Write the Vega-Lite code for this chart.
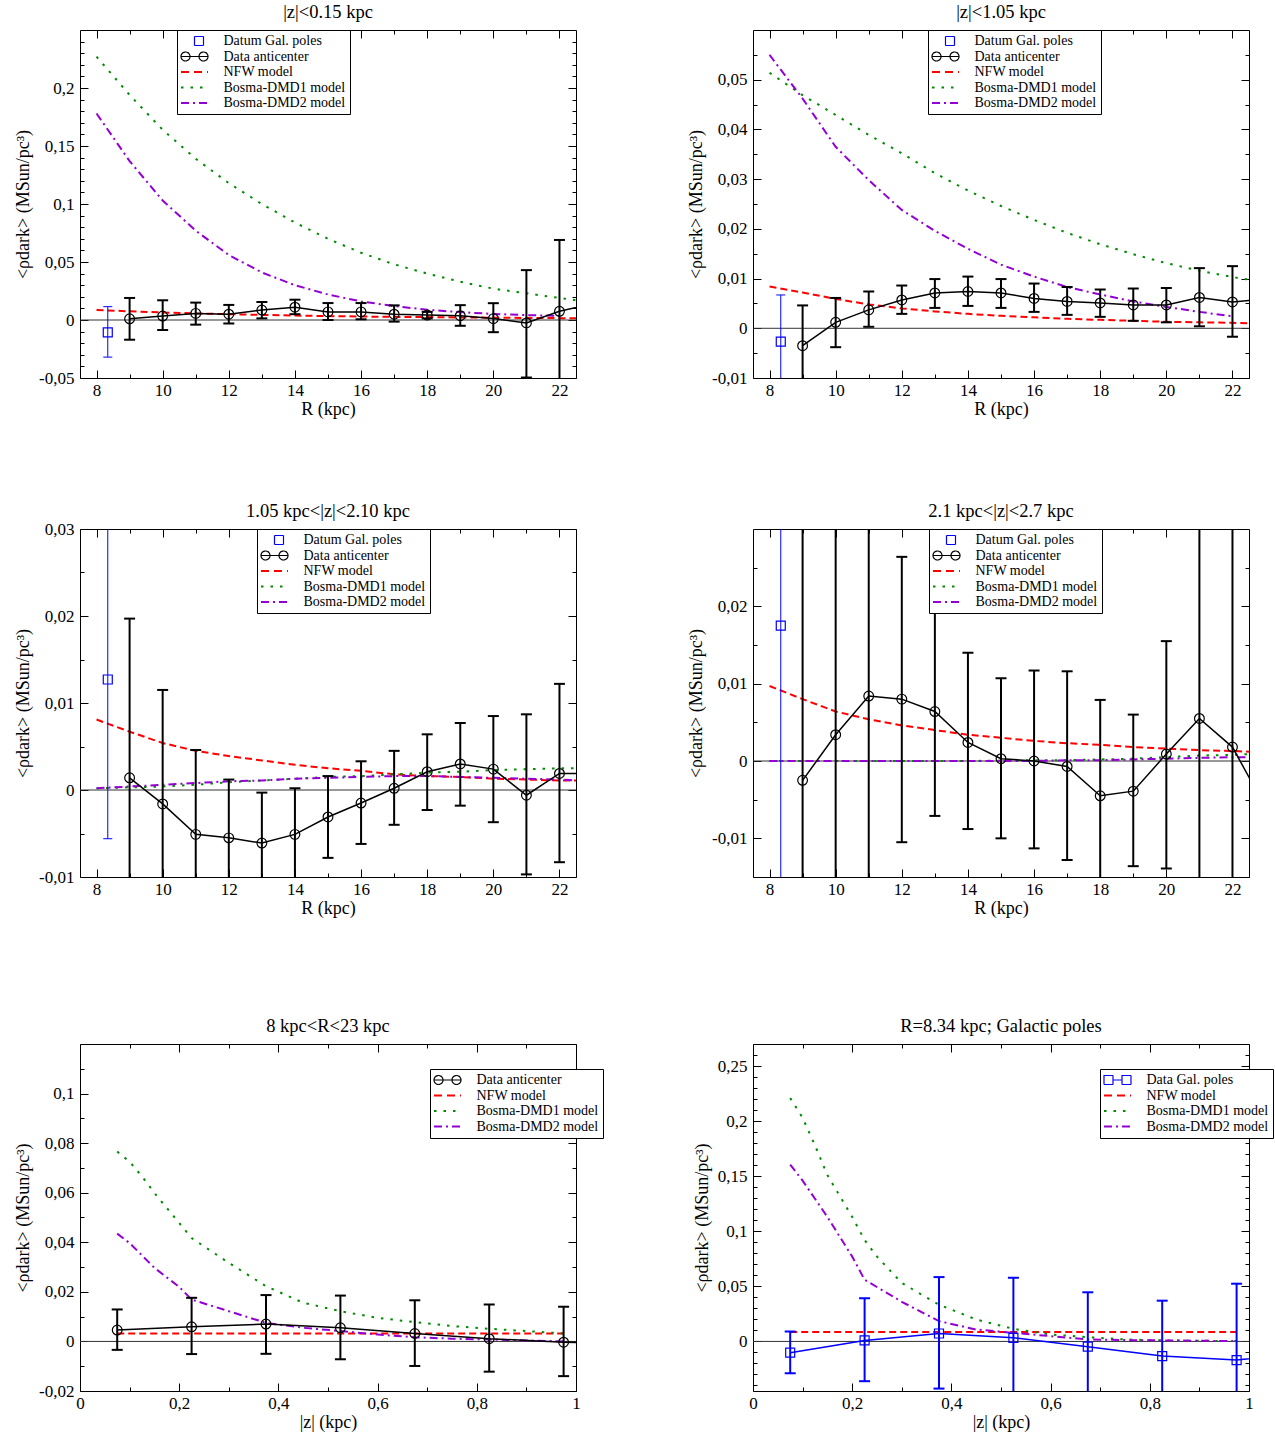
{
"$schema": "https://vega.github.io/schema/vega-lite/v6.json",
"background": "white",
"padding": {"left": 14, "top": 2, "right": 2, "bottom": 2},
"config": {
 "font": "Liberation Serif",
 "view": {"stroke": "#000000", "strokeWidth": 1},
 "axis": {"labelFont": "Liberation Serif", "labelFontSize": 17, "labelColor": "#000000", "titleFont": "Liberation Serif", "titleFontSize": 18, "titleFontWeight": "normal", "titleColor": "#000000", "domain": false, "grid": false, "tickColor": "#000000", "tickWidth": 1, "labelFlush": false, "labelOverlap": false, "labelBound": false},
 "title": {"font": "Liberation Serif", "fontSize": 18.5, "fontWeight": "normal", "color": "#000000", "offset": 8, "frame": "group"},
 "legend": {"orient": "none", "direction": "vertical", "fillColor": "white", "strokeColor": "#000000", "padding": 4, "rowPadding": 1.5, "symbolSize": 100, "symbolOffset": 6.5, "labelOffset": 22, "labelFont": "Liberation Serif", "labelFontSize": 14, "labelColor": "#000000", "symbolStrokeWidth": 1.5}
},
"datasets": {
"p1": [
{"s":"NFW model","x":8,"y":0.0086},{"s":"NFW model","x":9,"y":0.0075},{"s":"NFW model","x":10,"y":0.0065},{"s":"NFW model","x":11,"y":0.0057},{"s":"NFW model","x":12,"y":0.005},{"s":"NFW model","x":13,"y":0.0044},{"s":"NFW model","x":14,"y":0.0038},{"s":"NFW model","x":15,"y":0.0034},{"s":"NFW model","x":16,"y":0.003},{"s":"NFW model","x":17,"y":0.0027},{"s":"NFW model","x":18,"y":0.0025},{"s":"NFW model","x":19,"y":0.0022},{"s":"NFW model","x":20,"y":0.002},{"s":"NFW model","x":21,"y":0.0018},{"s":"NFW model","x":22,"y":0.0016},{"s":"NFW model","x":22.5,"y":0.0015},
{"s":"Bosma-DMD1 model","x":8,"y":0.227},{"s":"Bosma-DMD1 model","x":9,"y":0.194},{"s":"Bosma-DMD1 model","x":10,"y":0.164},{"s":"Bosma-DMD1 model","x":11,"y":0.139},{"s":"Bosma-DMD1 model","x":12,"y":0.118},{"s":"Bosma-DMD1 model","x":13,"y":0.1},{"s":"Bosma-DMD1 model","x":14,"y":0.084},{"s":"Bosma-DMD1 model","x":15,"y":0.07},{"s":"Bosma-DMD1 model","x":16,"y":0.058},{"s":"Bosma-DMD1 model","x":17,"y":0.048},{"s":"Bosma-DMD1 model","x":18,"y":0.04},{"s":"Bosma-DMD1 model","x":19,"y":0.033},{"s":"Bosma-DMD1 model","x":20,"y":0.027},{"s":"Bosma-DMD1 model","x":21,"y":0.023},{"s":"Bosma-DMD1 model","x":22,"y":0.019},{"s":"Bosma-DMD1 model","x":22.5,"y":0.017},
{"s":"Bosma-DMD2 model","x":8,"y":0.178},{"s":"Bosma-DMD2 model","x":9,"y":0.137},{"s":"Bosma-DMD2 model","x":10,"y":0.103},{"s":"Bosma-DMD2 model","x":11,"y":0.077},{"s":"Bosma-DMD2 model","x":12,"y":0.056},{"s":"Bosma-DMD2 model","x":13,"y":0.041},{"s":"Bosma-DMD2 model","x":14,"y":0.03},{"s":"Bosma-DMD2 model","x":15,"y":0.022},{"s":"Bosma-DMD2 model","x":16,"y":0.016},{"s":"Bosma-DMD2 model","x":17,"y":0.012},{"s":"Bosma-DMD2 model","x":18,"y":0.0088},{"s":"Bosma-DMD2 model","x":19,"y":0.0068},{"s":"Bosma-DMD2 model","x":20,"y":0.0052},{"s":"Bosma-DMD2 model","x":21,"y":0.0042},{"s":"Bosma-DMD2 model","x":22,"y":0.0035},
{"s":"Data anticenter","x":9,"y":0.001,"lo":-0.017,"hi":0.019},{"s":"Data anticenter","x":10,"y":0.0034,"lo":-0.0086,"hi":0.017},{"s":"Data anticenter","x":11,"y":0.0057,"lo":-0.004,"hi":0.015},{"s":"Data anticenter","x":12,"y":0.005,"lo":-0.003,"hi":0.013},{"s":"Data anticenter","x":13,"y":0.0086,"lo":0.0014,"hi":0.0155},{"s":"Data anticenter","x":14,"y":0.011,"lo":0.005,"hi":0.0175},{"s":"Data anticenter","x":15,"y":0.007,"lo":0.0,"hi":0.0146},{"s":"Data anticenter","x":16,"y":0.007,"lo":0.0006,"hi":0.0146},{"s":"Data anticenter","x":17,"y":0.005,"lo":-0.0014,"hi":0.0126},{"s":"Data anticenter","x":18,"y":0.0043,"lo":0.0014,"hi":0.007},{"s":"Data anticenter","x":19,"y":0.0037,"lo":-0.005,"hi":0.0128},{"s":"Data anticenter","x":20,"y":0.0012,"lo":-0.0105,"hi":0.0145},{"s":"Data anticenter","x":21,"y":-0.0025,"lo":-0.0496,"hi":0.043},{"s":"Data anticenter","x":22,"y":0.0075,"lo":-0.056,"hi":0.069},{"s":"Data anticenter","x":23,"y":0.014},
{"s":"Datum Gal. poles","x":8.34,"y":-0.0106,"lo":-0.032,"hi":0.0115}
],
"p2": [
{"s":"NFW model","x":8,"y":0.0084},{"s":"NFW model","x":9,"y":0.0072},{"s":"NFW model","x":10,"y":0.0059},{"s":"NFW model","x":11,"y":0.0048},{"s":"NFW model","x":12,"y":0.004},{"s":"NFW model","x":13,"y":0.0034},{"s":"NFW model","x":14,"y":0.0029},{"s":"NFW model","x":15,"y":0.0025},{"s":"NFW model","x":16,"y":0.0022},{"s":"NFW model","x":17,"y":0.0019},{"s":"NFW model","x":18,"y":0.0017},{"s":"NFW model","x":19,"y":0.0015},{"s":"NFW model","x":20,"y":0.0013},{"s":"NFW model","x":21,"y":0.0012},{"s":"NFW model","x":22,"y":0.0011},{"s":"NFW model","x":22.5,"y":0.001},
{"s":"Bosma-DMD1 model","x":8,"y":0.0514},{"s":"Bosma-DMD1 model","x":9,"y":0.0469},{"s":"Bosma-DMD1 model","x":10,"y":0.0429},{"s":"Bosma-DMD1 model","x":11,"y":0.0389},{"s":"Bosma-DMD1 model","x":12,"y":0.0352},{"s":"Bosma-DMD1 model","x":13,"y":0.0312},{"s":"Bosma-DMD1 model","x":14,"y":0.0277},{"s":"Bosma-DMD1 model","x":15,"y":0.0246},{"s":"Bosma-DMD1 model","x":16,"y":0.0218},{"s":"Bosma-DMD1 model","x":17,"y":0.0192},{"s":"Bosma-DMD1 model","x":18,"y":0.0169},{"s":"Bosma-DMD1 model","x":19,"y":0.0149},{"s":"Bosma-DMD1 model","x":20,"y":0.0131},{"s":"Bosma-DMD1 model","x":21,"y":0.0116},{"s":"Bosma-DMD1 model","x":22,"y":0.0103},{"s":"Bosma-DMD1 model","x":22.5,"y":0.0098},
{"s":"Bosma-DMD2 model","x":8,"y":0.055},{"s":"Bosma-DMD2 model","x":9,"y":0.0462},{"s":"Bosma-DMD2 model","x":10,"y":0.0365},{"s":"Bosma-DMD2 model","x":11,"y":0.0298},{"s":"Bosma-DMD2 model","x":12,"y":0.0238},{"s":"Bosma-DMD2 model","x":13,"y":0.0196},{"s":"Bosma-DMD2 model","x":14,"y":0.016},{"s":"Bosma-DMD2 model","x":15,"y":0.0128},{"s":"Bosma-DMD2 model","x":16,"y":0.0104},{"s":"Bosma-DMD2 model","x":17,"y":0.0083},{"s":"Bosma-DMD2 model","x":18,"y":0.0068},{"s":"Bosma-DMD2 model","x":19,"y":0.0054},{"s":"Bosma-DMD2 model","x":20,"y":0.0043},{"s":"Bosma-DMD2 model","x":21,"y":0.0033},{"s":"Bosma-DMD2 model","x":22,"y":0.0024},
{"s":"Data anticenter","x":9,"y":-0.0035,"lo":-0.0115,"hi":0.0046},{"s":"Data anticenter","x":10,"y":0.0012,"lo":-0.0038,"hi":0.0061},{"s":"Data anticenter","x":11,"y":0.0037,"lo":0.0003,"hi":0.0074},{"s":"Data anticenter","x":12,"y":0.0057,"lo":0.0029,"hi":0.0086},{"s":"Data anticenter","x":13,"y":0.0071,"lo":0.0041,"hi":0.0099},{"s":"Data anticenter","x":14,"y":0.0074,"lo":0.0045,"hi":0.0104},{"s":"Data anticenter","x":15,"y":0.0071,"lo":0.0041,"hi":0.0099},{"s":"Data anticenter","x":16,"y":0.006,"lo":0.0033,"hi":0.009},{"s":"Data anticenter","x":17,"y":0.0054,"lo":0.0027,"hi":0.0083},{"s":"Data anticenter","x":18,"y":0.0051,"lo":0.0023,"hi":0.0078},{"s":"Data anticenter","x":19,"y":0.0047,"lo":0.0015,"hi":0.008},{"s":"Data anticenter","x":20,"y":0.0047,"lo":0.0012,"hi":0.0081},{"s":"Data anticenter","x":21,"y":0.0062,"lo":0.0004,"hi":0.0121},{"s":"Data anticenter","x":22,"y":0.0053,"lo":-0.0017,"hi":0.0125},{"s":"Data anticenter","x":23,"y":0.0059},
{"s":"Datum Gal. poles","x":8.34,"y":-0.0027,"lo":-0.0121,"hi":0.0067}
],
"p3": [
{"s":"NFW model","x":8,"y":0.0081},{"s":"NFW model","x":9,"y":0.0067},{"s":"NFW model","x":10,"y":0.0054},{"s":"NFW model","x":11,"y":0.0045},{"s":"NFW model","x":12,"y":0.0039},{"s":"NFW model","x":13,"y":0.0034},{"s":"NFW model","x":14,"y":0.0029},{"s":"NFW model","x":15,"y":0.0025},{"s":"NFW model","x":16,"y":0.0022},{"s":"NFW model","x":17,"y":0.0018},{"s":"NFW model","x":18,"y":0.0016},{"s":"NFW model","x":19,"y":0.0015},{"s":"NFW model","x":20,"y":0.0013},{"s":"NFW model","x":21,"y":0.0012},{"s":"NFW model","x":22,"y":0.0011},{"s":"NFW model","x":22.5,"y":0.0011},
{"s":"Bosma-DMD1 model","x":8,"y":0.0002},{"s":"Bosma-DMD1 model","x":9,"y":0.0003},{"s":"Bosma-DMD1 model","x":10,"y":0.0004},{"s":"Bosma-DMD1 model","x":11,"y":0.0006},{"s":"Bosma-DMD1 model","x":12,"y":0.0009},{"s":"Bosma-DMD1 model","x":13,"y":0.0011},{"s":"Bosma-DMD1 model","x":14,"y":0.0013},{"s":"Bosma-DMD1 model","x":15,"y":0.0015},{"s":"Bosma-DMD1 model","x":16,"y":0.0016},{"s":"Bosma-DMD1 model","x":17,"y":0.0018},{"s":"Bosma-DMD1 model","x":18,"y":0.002},{"s":"Bosma-DMD1 model","x":19,"y":0.0021},{"s":"Bosma-DMD1 model","x":20,"y":0.0023},{"s":"Bosma-DMD1 model","x":21,"y":0.0024},{"s":"Bosma-DMD1 model","x":22,"y":0.0025},{"s":"Bosma-DMD1 model","x":22.5,"y":0.0025},
{"s":"Bosma-DMD2 model","x":8,"y":0.0002},{"s":"Bosma-DMD2 model","x":9,"y":0.0004},{"s":"Bosma-DMD2 model","x":10,"y":0.0006},{"s":"Bosma-DMD2 model","x":11,"y":0.0008},{"s":"Bosma-DMD2 model","x":12,"y":0.001},{"s":"Bosma-DMD2 model","x":13,"y":0.0011},{"s":"Bosma-DMD2 model","x":14,"y":0.0013},{"s":"Bosma-DMD2 model","x":15,"y":0.0014},{"s":"Bosma-DMD2 model","x":16,"y":0.0015},{"s":"Bosma-DMD2 model","x":17,"y":0.0016},{"s":"Bosma-DMD2 model","x":18,"y":0.0016},{"s":"Bosma-DMD2 model","x":19,"y":0.0015},{"s":"Bosma-DMD2 model","x":20,"y":0.0014},{"s":"Bosma-DMD2 model","x":21,"y":0.0013},{"s":"Bosma-DMD2 model","x":22,"y":0.0012},{"s":"Bosma-DMD2 model","x":22.5,"y":0.0011},
{"s":"Data anticenter","x":9,"y":0.0014,"lo":-0.0169,"hi":0.0197},{"s":"Data anticenter","x":10,"y":-0.0016,"lo":-0.0147,"hi":0.0115},{"s":"Data anticenter","x":11,"y":-0.0051,"lo":-0.0148,"hi":0.0046},{"s":"Data anticenter","x":12,"y":-0.0055,"lo":-0.0122,"hi":0.0012},{"s":"Data anticenter","x":13,"y":-0.0061,"lo":-0.0119,"hi":-0.0003},{"s":"Data anticenter","x":14,"y":-0.0051,"lo":-0.0104,"hi":0.0002},{"s":"Data anticenter","x":15,"y":-0.0031,"lo":-0.0078,"hi":0.0016},{"s":"Data anticenter","x":16,"y":-0.0015,"lo":-0.0062,"hi":0.0033},{"s":"Data anticenter","x":17,"y":0.0002,"lo":-0.004,"hi":0.0045},{"s":"Data anticenter","x":18,"y":0.0021,"lo":-0.0023,"hi":0.0064},{"s":"Data anticenter","x":19,"y":0.003,"lo":-0.0018,"hi":0.0077},{"s":"Data anticenter","x":20,"y":0.0024,"lo":-0.0037,"hi":0.0085},{"s":"Data anticenter","x":21,"y":-0.0006,"lo":-0.0097,"hi":0.0087},{"s":"Data anticenter","x":22,"y":0.0019,"lo":-0.0083,"hi":0.0122},{"s":"Data anticenter","x":23,"y":0.0019},
{"s":"Datum Gal. poles","x":8.34,"y":0.0127,"lo":-0.0056,"hi":0.031}
],
"p4": [
{"s":"NFW model","x":8,"y":0.0097},{"s":"NFW model","x":9,"y":0.008},{"s":"NFW model","x":10,"y":0.0064},{"s":"NFW model","x":11,"y":0.0054},{"s":"NFW model","x":12,"y":0.0046},{"s":"NFW model","x":13,"y":0.004},{"s":"NFW model","x":14,"y":0.0034},{"s":"NFW model","x":15,"y":0.003},{"s":"NFW model","x":16,"y":0.0026},{"s":"NFW model","x":17,"y":0.0023},{"s":"NFW model","x":18,"y":0.0021},{"s":"NFW model","x":19,"y":0.0018},{"s":"NFW model","x":20,"y":0.0016},{"s":"NFW model","x":21,"y":0.0014},{"s":"NFW model","x":22,"y":0.0013},{"s":"NFW model","x":22.5,"y":0.0012},
{"s":"Bosma-DMD1 model","x":8,"y":0},{"s":"Bosma-DMD1 model","x":10,"y":0},{"s":"Bosma-DMD1 model","x":12,"y":0},{"s":"Bosma-DMD1 model","x":14,"y":0},{"s":"Bosma-DMD1 model","x":16,"y":0.0001},{"s":"Bosma-DMD1 model","x":17,"y":0.0001},{"s":"Bosma-DMD1 model","x":18,"y":0.0002},{"s":"Bosma-DMD1 model","x":19,"y":0.0003},{"s":"Bosma-DMD1 model","x":20,"y":0.0005},{"s":"Bosma-DMD1 model","x":21,"y":0.0007},{"s":"Bosma-DMD1 model","x":22,"y":0.0008},{"s":"Bosma-DMD1 model","x":22.5,"y":0.0009},
{"s":"Bosma-DMD2 model","x":8,"y":0},{"s":"Bosma-DMD2 model","x":10,"y":0},{"s":"Bosma-DMD2 model","x":12,"y":0},{"s":"Bosma-DMD2 model","x":14,"y":0},{"s":"Bosma-DMD2 model","x":16,"y":0},{"s":"Bosma-DMD2 model","x":17,"y":0.0001},{"s":"Bosma-DMD2 model","x":18,"y":0.0001},{"s":"Bosma-DMD2 model","x":19,"y":0.0002},{"s":"Bosma-DMD2 model","x":20,"y":0.0003},{"s":"Bosma-DMD2 model","x":21,"y":0.0004},{"s":"Bosma-DMD2 model","x":22,"y":0.0005},{"s":"Bosma-DMD2 model","x":22.5,"y":0.0005},
{"s":"Data anticenter","x":9,"y":-0.0025,"lo":-0.05,"hi":0.05},{"s":"Data anticenter","x":10,"y":0.0034,"lo":-0.05,"hi":0.05},{"s":"Data anticenter","x":11,"y":0.0084,"lo":-0.05,"hi":0.05},{"s":"Data anticenter","x":12,"y":0.008,"lo":-0.0105,"hi":0.0264},{"s":"Data anticenter","x":13,"y":0.0064,"lo":-0.0071,"hi":0.0199},{"s":"Data anticenter","x":14,"y":0.0024,"lo":-0.0088,"hi":0.014},{"s":"Data anticenter","x":15,"y":0.0003,"lo":-0.01,"hi":0.0107},{"s":"Data anticenter","x":16,"y":0.0,"lo":-0.0113,"hi":0.0117},{"s":"Data anticenter","x":17,"y":-0.0007,"lo":-0.0128,"hi":0.0116},{"s":"Data anticenter","x":18,"y":-0.0045,"lo":-0.0169,"hi":0.0079},{"s":"Data anticenter","x":19,"y":-0.0039,"lo":-0.0136,"hi":0.006},{"s":"Data anticenter","x":20,"y":0.0009,"lo":-0.0139,"hi":0.0155},{"s":"Data anticenter","x":21,"y":0.0055,"lo":-0.05,"hi":0.05},{"s":"Data anticenter","x":22,"y":0.0018,"lo":-0.05,"hi":0.05},{"s":"Data anticenter","x":23,"y":-0.006},
{"s":"Datum Gal. poles","x":8.34,"y":0.0175,"lo":-0.05,"hi":0.05}
],
"p5": [
{"s":"NFW model","x":0.075,"y":0.0032},{"s":"NFW model","x":0.525,"y":0.0032},{"s":"NFW model","x":0.975,"y":0.0032},
{"s":"Bosma-DMD1 model","x":0.075,"y":0.0766},{"s":"Bosma-DMD1 model","x":0.1,"y":0.0725},{"s":"Bosma-DMD1 model","x":0.125,"y":0.0666},{"s":"Bosma-DMD1 model","x":0.15,"y":0.0599},{"s":"Bosma-DMD1 model","x":0.2,"y":0.0478},{"s":"Bosma-DMD1 model","x":0.225,"y":0.0417},{"s":"Bosma-DMD1 model","x":0.3,"y":0.0317},{"s":"Bosma-DMD1 model","x":0.375,"y":0.0223},{"s":"Bosma-DMD1 model","x":0.45,"y":0.0156},{"s":"Bosma-DMD1 model","x":0.525,"y":0.0122},{"s":"Bosma-DMD1 model","x":0.6,"y":0.0095},{"s":"Bosma-DMD1 model","x":0.675,"y":0.0078},{"s":"Bosma-DMD1 model","x":0.75,"y":0.0062},{"s":"Bosma-DMD1 model","x":0.825,"y":0.0051},{"s":"Bosma-DMD1 model","x":0.9,"y":0.0042},{"s":"Bosma-DMD1 model","x":0.975,"y":0.0032},
{"s":"Bosma-DMD2 model","x":0.075,"y":0.0435},{"s":"Bosma-DMD2 model","x":0.1,"y":0.0397},{"s":"Bosma-DMD2 model","x":0.15,"y":0.0297},{"s":"Bosma-DMD2 model","x":0.2,"y":0.022},{"s":"Bosma-DMD2 model","x":0.225,"y":0.0169},{"s":"Bosma-DMD2 model","x":0.3,"y":0.0122},{"s":"Bosma-DMD2 model","x":0.375,"y":0.0075},{"s":"Bosma-DMD2 model","x":0.45,"y":0.0055},{"s":"Bosma-DMD2 model","x":0.525,"y":0.0042},{"s":"Bosma-DMD2 model","x":0.6,"y":0.0028},{"s":"Bosma-DMD2 model","x":0.675,"y":0.0017},{"s":"Bosma-DMD2 model","x":0.75,"y":0.0011},{"s":"Bosma-DMD2 model","x":0.825,"y":0.0008},{"s":"Bosma-DMD2 model","x":0.9,"y":0.0004},{"s":"Bosma-DMD2 model","x":0.975,"y":0.0},
{"s":"Data anticenter","x":0.075,"y":0.0046,"lo":-0.0034,"hi":0.0129},{"s":"Data anticenter","x":0.225,"y":0.0059,"lo":-0.0051,"hi":0.0176},{"s":"Data anticenter","x":0.375,"y":0.007,"lo":-0.005,"hi":0.0187},{"s":"Data anticenter","x":0.525,"y":0.0055,"lo":-0.0072,"hi":0.0185},{"s":"Data anticenter","x":0.675,"y":0.0032,"lo":-0.0099,"hi":0.0166},{"s":"Data anticenter","x":0.825,"y":0.0011,"lo":-0.0122,"hi":0.0149},{"s":"Data anticenter","x":0.975,"y":-0.0003,"lo":-0.014,"hi":0.014},{"s":"Data anticenter","x":1.125,"y":-0.0011}
],
"p6": [
{"s":"NFW model","x":0.075,"y":0.0085},{"s":"NFW model","x":0.525,"y":0.0085},{"s":"NFW model","x":0.975,"y":0.0085},
{"s":"Bosma-DMD1 model","x":0.075,"y":0.221},{"s":"Bosma-DMD1 model","x":0.1,"y":0.203},{"s":"Bosma-DMD1 model","x":0.125,"y":0.178},{"s":"Bosma-DMD1 model","x":0.15,"y":0.151},{"s":"Bosma-DMD1 model","x":0.2,"y":0.113},{"s":"Bosma-DMD1 model","x":0.225,"y":0.092},{"s":"Bosma-DMD1 model","x":0.25,"y":0.077},{"s":"Bosma-DMD1 model","x":0.3,"y":0.053},{"s":"Bosma-DMD1 model","x":0.375,"y":0.0334},{"s":"Bosma-DMD1 model","x":0.45,"y":0.0199},{"s":"Bosma-DMD1 model","x":0.525,"y":0.0114},{"s":"Bosma-DMD1 model","x":0.6,"y":0.0063},{"s":"Bosma-DMD1 model","x":0.675,"y":0.0039},{"s":"Bosma-DMD1 model","x":0.75,"y":0.0018},{"s":"Bosma-DMD1 model","x":0.825,"y":0.0009},{"s":"Bosma-DMD1 model","x":0.9,"y":0.0006},{"s":"Bosma-DMD1 model","x":0.975,"y":0.0003},
{"s":"Bosma-DMD2 model","x":0.075,"y":0.1605},{"s":"Bosma-DMD2 model","x":0.1,"y":0.146},{"s":"Bosma-DMD2 model","x":0.15,"y":0.113},{"s":"Bosma-DMD2 model","x":0.2,"y":0.077},{"s":"Bosma-DMD2 model","x":0.225,"y":0.056},{"s":"Bosma-DMD2 model","x":0.3,"y":0.036},{"s":"Bosma-DMD2 model","x":0.375,"y":0.0184},{"s":"Bosma-DMD2 model","x":0.45,"y":0.0108},{"s":"Bosma-DMD2 model","x":0.525,"y":0.0078},{"s":"Bosma-DMD2 model","x":0.6,"y":0.0048},{"s":"Bosma-DMD2 model","x":0.675,"y":0.0018},{"s":"Bosma-DMD2 model","x":0.75,"y":0.0012},{"s":"Bosma-DMD2 model","x":0.825,"y":0.0009},{"s":"Bosma-DMD2 model","x":0.9,"y":0.0006},{"s":"Bosma-DMD2 model","x":0.975,"y":0.0003},
{"s":"Data Gal. poles","x":0.075,"y":-0.0102,"lo":-0.0289,"hi":0.009},{"s":"Data Gal. poles","x":0.225,"y":0.0009,"lo":-0.0361,"hi":0.0392},{"s":"Data Gal. poles","x":0.375,"y":0.0072,"lo":-0.0428,"hi":0.0584},{"s":"Data Gal. poles","x":0.525,"y":0.0033,"lo":-0.0512,"hi":0.0578},{"s":"Data Gal. poles","x":0.675,"y":-0.0048,"lo":-0.054,"hi":0.0446},{"s":"Data Gal. poles","x":0.825,"y":-0.0133,"lo":-0.0636,"hi":0.037},{"s":"Data Gal. poles","x":0.975,"y":-0.0169,"lo":-0.0862,"hi":0.0524},{"s":"Data Gal. poles","x":1.125,"y":-0.01}
]
},
"spacing": 82,
"resolve": {"scale": {"color": "independent"}},
"vconcat": [
{
"hconcat": [
{
"width": 496, "height": 348, "title": "|z|<0.15 kpc",
"resolve": {"axis": {"x": "independent", "y": "independent"}},
"layer": [
{"data": {"values": [{}]}, "mark": {"type": "rule", "color": "#333333", "strokeWidth": 1},
 "encoding": {
  "x": {"datum": 7.5, "type": "quantitative", "scale": {"domain": [7.5, 22.5], "nice": false, "zero": false}, "axis": {"orient": "top", "labels": false, "title": null, "values": [8,9,10,11,12,13,14,15,16,17,18,19,20,21,22], "tickSize": {"condition": {"test": "datum.value%2==0", "value": -8}, "value": -4}}},
  "x2": {"datum": 22.5},
  "y": {"datum": 0, "type": "quantitative", "scale": {"domain": [-0.05, 0.25], "nice": false, "zero": false}, "axis": {"orient": "right", "labels": false, "title": null, "values": [-0.05,-0.04,-0.03,-0.02,-0.01,0,0.01,0.02,0.03,0.04,0.05,0.06,0.07,0.08,0.09,0.1,0.11,0.12,0.13,0.14,0.15,0.16,0.17,0.18,0.19,0.2,0.21,0.22,0.23,0.24], "tickSize": {"condition": {"test": "abs(datum.value*20-round(datum.value*20))<1e-6", "value": -8}, "value": -4}}}
 }},
{"data": {"name": "p1"},
 "encoding": {
  "x": {"field": "x", "type": "quantitative", "scale": {"domain": [7.5, 22.5], "nice": false, "zero": false}, "axis": {"title": "R (kpc)", "values": [8,9,10,11,12,13,14,15,16,17,18,19,20,21,22], "tickSize": {"condition": {"test": "datum.value%2==0", "value": -8}, "value": -4}, "labelExpr": "datum.value%2==0 ? toString(datum.value) : ''", "labelPadding": 12, "titlePadding": -2}},
  "y": {"field": "y", "type": "quantitative", "scale": {"domain": [-0.05, 0.25], "nice": false, "zero": false}, "axis": {"title": "<ρdark> (MSun/pc³)", "values": [-0.05,-0.04,-0.03,-0.02,-0.01,0,0.01,0.02,0.03,0.04,0.05,0.06,0.07,0.08,0.09,0.1,0.11,0.12,0.13,0.14,0.15,0.16,0.17,0.18,0.19,0.2,0.21,0.22,0.23,0.24], "tickSize": {"condition": {"test": "abs(datum.value*20-round(datum.value*20))<1e-6", "value": -8}, "value": -4}, "labelExpr": "abs(datum.value*20-round(datum.value*20))<1e-6 ? replace(toString(datum.value),'.',',') : ''", "labelPadding": 14, "titlePadding": 6}},
  "color": {"field": "s", "type": "nominal", "scale": {"domain": ["Datum Gal. poles","Data anticenter","NFW model","Bosma-DMD1 model","Bosma-DMD2 model"], "range": ["#0000ff","#000000","#ff0000","#008b00","#9400d3"]},
   "legend": {"title": null, "orient": "none", "legendX": 97, "legendY": 0, "encode": {"symbols": {"update": {"shape": {"signal": "datum.value=='Data anticenter' ? 'M-2.7,0H2.7M-0.9,0A0.9,0.9,0,1,1,-2.7,0A0.9,0.9,0,1,1,-0.9,0M2.7,0A0.9,0.9,0,1,1,0.9,0A0.9,0.9,0,1,1,2.7,0' : datum.value=='Datum Gal. poles' ? 'M0,-0.9H1.8V0.9H0Z' : datum.value=='Data Gal. poles' ? 'M-2.7,-0.9H-0.9V0.9H-2.7ZM0.9,-0.9H2.7V0.9H0.9ZM-0.9,0H0.9' : 'M-2.7,0H2.7'"}, "stroke": {"signal": "datum.value=='NFW model' ? '#ff0000' : datum.value=='Bosma-DMD1 model' ? '#008b00' : datum.value=='Bosma-DMD2 model' ? '#9400d3' : datum.value=='Data anticenter' ? '#000000' : '#0000ff'"}, "strokeDash": {"signal": "datum.value=='NFW model' ? [8,5] : datum.value=='Bosma-DMD1 model' ? [2.5,7] : datum.value=='Bosma-DMD2 model' ? [8,4,2,4] : [1,0]"}, "strokeWidth": {"signal": "(datum.value=='NFW model' || datum.value=='Bosma-DMD1 model' || datum.value=='Bosma-DMD2 model') ? 2.2 : 1.2"}, "fill": {"value": "transparent"}, "opacity": {"value": 1}}}}}}
 },
 "layer": [
  {"transform": [{"filter": "datum.s=='NFW model' || datum.s=='Bosma-DMD1 model' || datum.s=='Bosma-DMD2 model'"}], "mark": {"type": "line", "strokeWidth": 2, "clip": true}, "encoding": {"strokeDash": {"field": "s", "type": "nominal", "scale": {"domain": ["Datum Gal. poles","Data Gal. poles","Data anticenter","NFW model","Bosma-DMD1 model","Bosma-DMD2 model"], "range": [[1,0],[1,0],[1,0],[7,4],[2.5,7],[8,4,2,4]]}, "legend": null}}},
  {"transform": [{"filter": "datum.s=='Data anticenter' || datum.s=='Data Gal. poles'"}], "mark": {"type": "line", "strokeWidth": 1.5, "clip": true}},
  {"transform": [{"filter": "isValid(datum.lo) && datum.s!='Datum Gal. poles'"}], "mark": {"type": "rule", "strokeWidth": 2, "clip": true}, "encoding": {"y": {"field": "lo", "type": "quantitative"}, "y2": {"field": "hi"}}},
  {"transform": [{"filter": "isValid(datum.lo) && datum.s!='Datum Gal. poles'"}], "mark": {"type": "rule", "strokeWidth": 2, "clip": true, "xOffset": -5.5, "x2Offset": 5.5}, "encoding": {"x2": {"field": "x"}, "y": {"field": "lo", "type": "quantitative"}}},
  {"transform": [{"filter": "isValid(datum.lo) && datum.s!='Datum Gal. poles'"}], "mark": {"type": "rule", "strokeWidth": 2, "clip": true, "xOffset": -5.5, "x2Offset": 5.5}, "encoding": {"x2": {"field": "x"}, "y": {"field": "hi", "type": "quantitative"}}},
  {"transform": [{"filter": "isValid(datum.lo) && datum.s=='Datum Gal. poles'"}], "mark": {"type": "rule", "strokeWidth": 1, "clip": true}, "encoding": {"y": {"field": "lo", "type": "quantitative"}, "y2": {"field": "hi"}}},
  {"transform": [{"filter": "isValid(datum.lo) && datum.s=='Datum Gal. poles'"}], "mark": {"type": "rule", "strokeWidth": 1, "clip": true, "xOffset": -4.5, "x2Offset": 4.5}, "encoding": {"x2": {"field": "x"}, "y": {"field": "lo", "type": "quantitative"}}},
  {"transform": [{"filter": "isValid(datum.lo) && datum.s=='Datum Gal. poles'"}], "mark": {"type": "rule", "strokeWidth": 1, "clip": true, "xOffset": -4.5, "x2Offset": 4.5}, "encoding": {"x2": {"field": "x"}, "y": {"field": "hi", "type": "quantitative"}}},
  {"transform": [{"filter": "datum.s=='Data anticenter'"}], "mark": {"type": "point", "shape": "circle", "size": 95, "filled": false, "strokeWidth": 1.2, "opacity": 1, "clip": true}},
  {"transform": [{"filter": "datum.s=='Datum Gal. poles' || datum.s=='Data Gal. poles'"}], "mark": {"type": "point", "shape": "square", "size": 81, "filled": false, "strokeWidth": 1.2, "opacity": 1, "clip": true}}
 ]}
]
},
{
"width": 496, "height": 348, "title": "|z|<1.05 kpc",
"resolve": {"axis": {"x": "independent", "y": "independent"}},
"layer": [
{"data": {"values": [{}]}, "mark": {"type": "rule", "color": "#333333", "strokeWidth": 1},
 "encoding": {
  "x": {"datum": 7.5, "type": "quantitative", "scale": {"domain": [7.5, 22.5], "nice": false, "zero": false}, "axis": {"orient": "top", "labels": false, "title": null, "values": [8,9,10,11,12,13,14,15,16,17,18,19,20,21,22], "tickSize": {"condition": {"test": "datum.value%2==0", "value": -8}, "value": -4}}},
  "x2": {"datum": 22.5},
  "y": {"datum": 0, "type": "quantitative", "scale": {"domain": [-0.01, 0.06], "nice": false, "zero": false}, "axis": {"orient": "right", "labels": false, "title": null, "values": [-0.01,-0.005,0,0.005,0.01,0.015,0.02,0.025,0.03,0.035,0.04,0.045,0.05,0.055], "tickSize": {"condition": {"test": "abs(datum.value*100-round(datum.value*100))<1e-6", "value": -8}, "value": -4}}}
 }},
{"data": {"name": "p2"},
 "encoding": {
  "x": {"field": "x", "type": "quantitative", "scale": {"domain": [7.5, 22.5], "nice": false, "zero": false}, "axis": {"title": "R (kpc)", "values": [8,9,10,11,12,13,14,15,16,17,18,19,20,21,22], "tickSize": {"condition": {"test": "datum.value%2==0", "value": -8}, "value": -4}, "labelExpr": "datum.value%2==0 ? toString(datum.value) : ''", "labelPadding": 12, "titlePadding": -2}},
  "y": {"field": "y", "type": "quantitative", "scale": {"domain": [-0.01, 0.06], "nice": false, "zero": false}, "axis": {"title": "<ρdark> (MSun/pc³)", "values": [-0.01,-0.005,0,0.005,0.01,0.015,0.02,0.025,0.03,0.035,0.04,0.045,0.05,0.055], "tickSize": {"condition": {"test": "abs(datum.value*100-round(datum.value*100))<1e-6", "value": -8}, "value": -4}, "labelExpr": "abs(datum.value*100-round(datum.value*100))<1e-6 ? replace(toString(datum.value),'.',',') : ''", "labelPadding": 14, "titlePadding": 6}},
  "color": {"field": "s", "type": "nominal", "scale": {"domain": ["Datum Gal. poles","Data anticenter","NFW model","Bosma-DMD1 model","Bosma-DMD2 model"], "range": ["#0000ff","#000000","#ff0000","#008b00","#9400d3"]},
   "legend": {"title": null, "orient": "none", "legendX": 175, "legendY": 0, "encode": {"symbols": {"update": {"shape": {"signal": "datum.value=='Data anticenter' ? 'M-2.7,0H2.7M-0.9,0A0.9,0.9,0,1,1,-2.7,0A0.9,0.9,0,1,1,-0.9,0M2.7,0A0.9,0.9,0,1,1,0.9,0A0.9,0.9,0,1,1,2.7,0' : datum.value=='Datum Gal. poles' ? 'M0,-0.9H1.8V0.9H0Z' : datum.value=='Data Gal. poles' ? 'M-2.7,-0.9H-0.9V0.9H-2.7ZM0.9,-0.9H2.7V0.9H0.9ZM-0.9,0H0.9' : 'M-2.7,0H2.7'"}, "stroke": {"signal": "datum.value=='NFW model' ? '#ff0000' : datum.value=='Bosma-DMD1 model' ? '#008b00' : datum.value=='Bosma-DMD2 model' ? '#9400d3' : datum.value=='Data anticenter' ? '#000000' : '#0000ff'"}, "strokeDash": {"signal": "datum.value=='NFW model' ? [8,5] : datum.value=='Bosma-DMD1 model' ? [2.5,7] : datum.value=='Bosma-DMD2 model' ? [8,4,2,4] : [1,0]"}, "strokeWidth": {"signal": "(datum.value=='NFW model' || datum.value=='Bosma-DMD1 model' || datum.value=='Bosma-DMD2 model') ? 2.2 : 1.2"}, "fill": {"value": "transparent"}, "opacity": {"value": 1}}}}}}
 },
 "layer": [
  {"transform": [{"filter": "datum.s=='NFW model' || datum.s=='Bosma-DMD1 model' || datum.s=='Bosma-DMD2 model'"}], "mark": {"type": "line", "strokeWidth": 2, "clip": true}, "encoding": {"strokeDash": {"field": "s", "type": "nominal", "scale": {"domain": ["Datum Gal. poles","Data Gal. poles","Data anticenter","NFW model","Bosma-DMD1 model","Bosma-DMD2 model"], "range": [[1,0],[1,0],[1,0],[7,4],[2.5,7],[8,4,2,4]]}, "legend": null}}},
  {"transform": [{"filter": "datum.s=='Data anticenter' || datum.s=='Data Gal. poles'"}], "mark": {"type": "line", "strokeWidth": 1.5, "clip": true}},
  {"transform": [{"filter": "isValid(datum.lo) && datum.s!='Datum Gal. poles'"}], "mark": {"type": "rule", "strokeWidth": 2, "clip": true}, "encoding": {"y": {"field": "lo", "type": "quantitative"}, "y2": {"field": "hi"}}},
  {"transform": [{"filter": "isValid(datum.lo) && datum.s!='Datum Gal. poles'"}], "mark": {"type": "rule", "strokeWidth": 2, "clip": true, "xOffset": -5.5, "x2Offset": 5.5}, "encoding": {"x2": {"field": "x"}, "y": {"field": "lo", "type": "quantitative"}}},
  {"transform": [{"filter": "isValid(datum.lo) && datum.s!='Datum Gal. poles'"}], "mark": {"type": "rule", "strokeWidth": 2, "clip": true, "xOffset": -5.5, "x2Offset": 5.5}, "encoding": {"x2": {"field": "x"}, "y": {"field": "hi", "type": "quantitative"}}},
  {"transform": [{"filter": "isValid(datum.lo) && datum.s=='Datum Gal. poles'"}], "mark": {"type": "rule", "strokeWidth": 1, "clip": true}, "encoding": {"y": {"field": "lo", "type": "quantitative"}, "y2": {"field": "hi"}}},
  {"transform": [{"filter": "isValid(datum.lo) && datum.s=='Datum Gal. poles'"}], "mark": {"type": "rule", "strokeWidth": 1, "clip": true, "xOffset": -4.5, "x2Offset": 4.5}, "encoding": {"x2": {"field": "x"}, "y": {"field": "lo", "type": "quantitative"}}},
  {"transform": [{"filter": "isValid(datum.lo) && datum.s=='Datum Gal. poles'"}], "mark": {"type": "rule", "strokeWidth": 1, "clip": true, "xOffset": -4.5, "x2Offset": 4.5}, "encoding": {"x2": {"field": "x"}, "y": {"field": "hi", "type": "quantitative"}}},
  {"transform": [{"filter": "datum.s=='Data anticenter'"}], "mark": {"type": "point", "shape": "circle", "size": 95, "filled": false, "strokeWidth": 1.2, "opacity": 1, "clip": true}},
  {"transform": [{"filter": "datum.s=='Datum Gal. poles' || datum.s=='Data Gal. poles'"}], "mark": {"type": "point", "shape": "square", "size": 81, "filled": false, "strokeWidth": 1.2, "opacity": 1, "clip": true}}
 ]}
]
}
],
"spacing": 177, "bounds": "flush", "resolve": {"scale": {"color": "independent"}}
},
{
"vconcat": [
{
"hconcat": [
{
"width": 496, "height": 348, "title": {"text": "1.05 kpc<|z|<2.10 kpc", "offset": 0},
"resolve": {"axis": {"x": "independent", "y": "independent"}},
"layer": [
{"data": {"values": [{}]}, "mark": {"type": "rule", "color": "#333333", "strokeWidth": 1},
 "encoding": {
  "x": {"datum": 7.5, "type": "quantitative", "scale": {"domain": [7.5, 22.5], "nice": false, "zero": false}, "axis": {"orient": "top", "labels": false, "title": null, "values": [8,9,10,11,12,13,14,15,16,17,18,19,20,21,22], "tickSize": {"condition": {"test": "datum.value%2==0", "value": -8}, "value": -4}}},
  "x2": {"datum": 22.5},
  "y": {"datum": 0, "type": "quantitative", "scale": {"domain": [-0.01, 0.03], "nice": false, "zero": false}, "axis": {"orient": "right", "labels": false, "title": null, "values": [-0.01,-0.005,0,0.005,0.01,0.015,0.02,0.025,0.03], "tickSize": {"condition": {"test": "abs(datum.value*100-round(datum.value*100))<1e-6", "value": -8}, "value": -4}}}
 }},
{"data": {"name": "p3"},
 "encoding": {
  "x": {"field": "x", "type": "quantitative", "scale": {"domain": [7.5, 22.5], "nice": false, "zero": false}, "axis": {"title": "R (kpc)", "values": [8,9,10,11,12,13,14,15,16,17,18,19,20,21,22], "tickSize": {"condition": {"test": "datum.value%2==0", "value": -8}, "value": -4}, "labelExpr": "datum.value%2==0 ? toString(datum.value) : ''", "labelPadding": 12, "titlePadding": -2}},
  "y": {"field": "y", "type": "quantitative", "scale": {"domain": [-0.01, 0.03], "nice": false, "zero": false}, "axis": {"title": "<ρdark> (MSun/pc³)", "values": [-0.01,-0.005,0,0.005,0.01,0.015,0.02,0.025,0.03], "tickSize": {"condition": {"test": "abs(datum.value*100-round(datum.value*100))<1e-6", "value": -8}, "value": -4}, "labelExpr": "abs(datum.value*100-round(datum.value*100))<1e-6 ? replace(toString(datum.value),'.',',') : ''", "labelPadding": 14, "titlePadding": 6}},
  "color": {"field": "s", "type": "nominal", "scale": {"domain": ["Datum Gal. poles","Data anticenter","NFW model","Bosma-DMD1 model","Bosma-DMD2 model"], "range": ["#0000ff","#000000","#ff0000","#008b00","#9400d3"]},
   "legend": {"title": null, "orient": "none", "legendX": 177, "legendY": 0, "encode": {"symbols": {"update": {"shape": {"signal": "datum.value=='Data anticenter' ? 'M-2.7,0H2.7M-0.9,0A0.9,0.9,0,1,1,-2.7,0A0.9,0.9,0,1,1,-0.9,0M2.7,0A0.9,0.9,0,1,1,0.9,0A0.9,0.9,0,1,1,2.7,0' : datum.value=='Datum Gal. poles' ? 'M0,-0.9H1.8V0.9H0Z' : datum.value=='Data Gal. poles' ? 'M-2.7,-0.9H-0.9V0.9H-2.7ZM0.9,-0.9H2.7V0.9H0.9ZM-0.9,0H0.9' : 'M-2.7,0H2.7'"}, "stroke": {"signal": "datum.value=='NFW model' ? '#ff0000' : datum.value=='Bosma-DMD1 model' ? '#008b00' : datum.value=='Bosma-DMD2 model' ? '#9400d3' : datum.value=='Data anticenter' ? '#000000' : '#0000ff'"}, "strokeDash": {"signal": "datum.value=='NFW model' ? [8,5] : datum.value=='Bosma-DMD1 model' ? [2.5,7] : datum.value=='Bosma-DMD2 model' ? [8,4,2,4] : [1,0]"}, "strokeWidth": {"signal": "(datum.value=='NFW model' || datum.value=='Bosma-DMD1 model' || datum.value=='Bosma-DMD2 model') ? 2.2 : 1.2"}, "fill": {"value": "transparent"}, "opacity": {"value": 1}}}}}}
 },
 "layer": [
  {"transform": [{"filter": "datum.s=='NFW model' || datum.s=='Bosma-DMD1 model' || datum.s=='Bosma-DMD2 model'"}], "mark": {"type": "line", "strokeWidth": 2, "clip": true}, "encoding": {"strokeDash": {"field": "s", "type": "nominal", "scale": {"domain": ["Datum Gal. poles","Data Gal. poles","Data anticenter","NFW model","Bosma-DMD1 model","Bosma-DMD2 model"], "range": [[1,0],[1,0],[1,0],[7,4],[2.5,7],[8,4,2,4]]}, "legend": null}}},
  {"transform": [{"filter": "datum.s=='Data anticenter' || datum.s=='Data Gal. poles'"}], "mark": {"type": "line", "strokeWidth": 1.5, "clip": true}},
  {"transform": [{"filter": "isValid(datum.lo) && datum.s!='Datum Gal. poles'"}], "mark": {"type": "rule", "strokeWidth": 2, "clip": true}, "encoding": {"y": {"field": "lo", "type": "quantitative"}, "y2": {"field": "hi"}}},
  {"transform": [{"filter": "isValid(datum.lo) && datum.s!='Datum Gal. poles'"}], "mark": {"type": "rule", "strokeWidth": 2, "clip": true, "xOffset": -5.5, "x2Offset": 5.5}, "encoding": {"x2": {"field": "x"}, "y": {"field": "lo", "type": "quantitative"}}},
  {"transform": [{"filter": "isValid(datum.lo) && datum.s!='Datum Gal. poles'"}], "mark": {"type": "rule", "strokeWidth": 2, "clip": true, "xOffset": -5.5, "x2Offset": 5.5}, "encoding": {"x2": {"field": "x"}, "y": {"field": "hi", "type": "quantitative"}}},
  {"transform": [{"filter": "isValid(datum.lo) && datum.s=='Datum Gal. poles'"}], "mark": {"type": "rule", "strokeWidth": 1, "clip": true}, "encoding": {"y": {"field": "lo", "type": "quantitative"}, "y2": {"field": "hi"}}},
  {"transform": [{"filter": "isValid(datum.lo) && datum.s=='Datum Gal. poles'"}], "mark": {"type": "rule", "strokeWidth": 1, "clip": true, "xOffset": -4.5, "x2Offset": 4.5}, "encoding": {"x2": {"field": "x"}, "y": {"field": "lo", "type": "quantitative"}}},
  {"transform": [{"filter": "isValid(datum.lo) && datum.s=='Datum Gal. poles'"}], "mark": {"type": "rule", "strokeWidth": 1, "clip": true, "xOffset": -4.5, "x2Offset": 4.5}, "encoding": {"x2": {"field": "x"}, "y": {"field": "hi", "type": "quantitative"}}},
  {"transform": [{"filter": "datum.s=='Data anticenter'"}], "mark": {"type": "point", "shape": "circle", "size": 95, "filled": false, "strokeWidth": 1.2, "opacity": 1, "clip": true}},
  {"transform": [{"filter": "datum.s=='Datum Gal. poles' || datum.s=='Data Gal. poles'"}], "mark": {"type": "point", "shape": "square", "size": 81, "filled": false, "strokeWidth": 1.2, "opacity": 1, "clip": true}}
 ]}
]
},
{
"width": 496, "height": 348, "title": "2.1 kpc<|z|<2.7 kpc",
"resolve": {"axis": {"x": "independent", "y": "independent"}},
"layer": [
{"data": {"values": [{}]}, "mark": {"type": "rule", "color": "#333333", "strokeWidth": 1},
 "encoding": {
  "x": {"datum": 7.5, "type": "quantitative", "scale": {"domain": [7.5, 22.5], "nice": false, "zero": false}, "axis": {"orient": "top", "labels": false, "title": null, "values": [8,9,10,11,12,13,14,15,16,17,18,19,20,21,22], "tickSize": {"condition": {"test": "datum.value%2==0", "value": -8}, "value": -4}}},
  "x2": {"datum": 22.5},
  "y": {"datum": 0, "type": "quantitative", "scale": {"domain": [-0.015, 0.03], "nice": false, "zero": false}, "axis": {"orient": "right", "labels": false, "title": null, "values": [-0.015,-0.01,-0.005,0,0.005,0.01,0.015,0.02,0.025], "tickSize": {"condition": {"test": "abs(datum.value*100-round(datum.value*100))<1e-6", "value": -8}, "value": -4}}}
 }},
{"data": {"name": "p4"},
 "encoding": {
  "x": {"field": "x", "type": "quantitative", "scale": {"domain": [7.5, 22.5], "nice": false, "zero": false}, "axis": {"title": "R (kpc)", "values": [8,9,10,11,12,13,14,15,16,17,18,19,20,21,22], "tickSize": {"condition": {"test": "datum.value%2==0", "value": -8}, "value": -4}, "labelExpr": "datum.value%2==0 ? toString(datum.value) : ''", "labelPadding": 12, "titlePadding": -2}},
  "y": {"field": "y", "type": "quantitative", "scale": {"domain": [-0.015, 0.03], "nice": false, "zero": false}, "axis": {"title": "<ρdark> (MSun/pc³)", "values": [-0.015,-0.01,-0.005,0,0.005,0.01,0.015,0.02,0.025], "tickSize": {"condition": {"test": "abs(datum.value*100-round(datum.value*100))<1e-6", "value": -8}, "value": -4}, "labelExpr": "abs(datum.value*100-round(datum.value*100))<1e-6 ? replace(toString(datum.value),'.',',') : ''", "labelPadding": 14, "titlePadding": 6}},
  "color": {"field": "s", "type": "nominal", "scale": {"domain": ["Datum Gal. poles","Data anticenter","NFW model","Bosma-DMD1 model","Bosma-DMD2 model"], "range": ["#0000ff","#000000","#ff0000","#008b00","#9400d3"]},
   "legend": {"title": null, "orient": "none", "legendX": 176, "legendY": 0, "encode": {"symbols": {"update": {"shape": {"signal": "datum.value=='Data anticenter' ? 'M-2.7,0H2.7M-0.9,0A0.9,0.9,0,1,1,-2.7,0A0.9,0.9,0,1,1,-0.9,0M2.7,0A0.9,0.9,0,1,1,0.9,0A0.9,0.9,0,1,1,2.7,0' : datum.value=='Datum Gal. poles' ? 'M0,-0.9H1.8V0.9H0Z' : datum.value=='Data Gal. poles' ? 'M-2.7,-0.9H-0.9V0.9H-2.7ZM0.9,-0.9H2.7V0.9H0.9ZM-0.9,0H0.9' : 'M-2.7,0H2.7'"}, "stroke": {"signal": "datum.value=='NFW model' ? '#ff0000' : datum.value=='Bosma-DMD1 model' ? '#008b00' : datum.value=='Bosma-DMD2 model' ? '#9400d3' : datum.value=='Data anticenter' ? '#000000' : '#0000ff'"}, "strokeDash": {"signal": "datum.value=='NFW model' ? [8,5] : datum.value=='Bosma-DMD1 model' ? [2.5,7] : datum.value=='Bosma-DMD2 model' ? [8,4,2,4] : [1,0]"}, "strokeWidth": {"signal": "(datum.value=='NFW model' || datum.value=='Bosma-DMD1 model' || datum.value=='Bosma-DMD2 model') ? 2.2 : 1.2"}, "fill": {"value": "transparent"}, "opacity": {"value": 1}}}}}}
 },
 "layer": [
  {"transform": [{"filter": "datum.s=='NFW model' || datum.s=='Bosma-DMD1 model' || datum.s=='Bosma-DMD2 model'"}], "mark": {"type": "line", "strokeWidth": 2, "clip": true}, "encoding": {"strokeDash": {"field": "s", "type": "nominal", "scale": {"domain": ["Datum Gal. poles","Data Gal. poles","Data anticenter","NFW model","Bosma-DMD1 model","Bosma-DMD2 model"], "range": [[1,0],[1,0],[1,0],[7,4],[2.5,7],[8,4,2,4]]}, "legend": null}}},
  {"transform": [{"filter": "datum.s=='Data anticenter' || datum.s=='Data Gal. poles'"}], "mark": {"type": "line", "strokeWidth": 1.5, "clip": true}},
  {"transform": [{"filter": "isValid(datum.lo) && datum.s!='Datum Gal. poles'"}], "mark": {"type": "rule", "strokeWidth": 2, "clip": true}, "encoding": {"y": {"field": "lo", "type": "quantitative"}, "y2": {"field": "hi"}}},
  {"transform": [{"filter": "isValid(datum.lo) && datum.s!='Datum Gal. poles'"}], "mark": {"type": "rule", "strokeWidth": 2, "clip": true, "xOffset": -5.5, "x2Offset": 5.5}, "encoding": {"x2": {"field": "x"}, "y": {"field": "lo", "type": "quantitative"}}},
  {"transform": [{"filter": "isValid(datum.lo) && datum.s!='Datum Gal. poles'"}], "mark": {"type": "rule", "strokeWidth": 2, "clip": true, "xOffset": -5.5, "x2Offset": 5.5}, "encoding": {"x2": {"field": "x"}, "y": {"field": "hi", "type": "quantitative"}}},
  {"transform": [{"filter": "isValid(datum.lo) && datum.s=='Datum Gal. poles'"}], "mark": {"type": "rule", "strokeWidth": 1, "clip": true}, "encoding": {"y": {"field": "lo", "type": "quantitative"}, "y2": {"field": "hi"}}},
  {"transform": [{"filter": "isValid(datum.lo) && datum.s=='Datum Gal. poles'"}], "mark": {"type": "rule", "strokeWidth": 1, "clip": true, "xOffset": -4.5, "x2Offset": 4.5}, "encoding": {"x2": {"field": "x"}, "y": {"field": "lo", "type": "quantitative"}}},
  {"transform": [{"filter": "isValid(datum.lo) && datum.s=='Datum Gal. poles'"}], "mark": {"type": "rule", "strokeWidth": 1, "clip": true, "xOffset": -4.5, "x2Offset": 4.5}, "encoding": {"x2": {"field": "x"}, "y": {"field": "hi", "type": "quantitative"}}},
  {"transform": [{"filter": "datum.s=='Data anticenter'"}], "mark": {"type": "point", "shape": "circle", "size": 95, "filled": false, "strokeWidth": 1.2, "opacity": 1, "clip": true}},
  {"transform": [{"filter": "datum.s=='Datum Gal. poles' || datum.s=='Data Gal. poles'"}], "mark": {"type": "point", "shape": "square", "size": 81, "filled": false, "strokeWidth": 1.2, "opacity": 1, "clip": true}}
 ]}
]
}
],
"spacing": 177, "bounds": "flush", "resolve": {"scale": {"color": "independent"}}
},
{
"hconcat": [
{
"width": 496, "height": 347, "title": "8 kpc<R<23 kpc",
"resolve": {"axis": {"x": "independent", "y": "independent"}},
"layer": [
{"data": {"values": [{}]}, "mark": {"type": "rule", "color": "#333333", "strokeWidth": 1},
 "encoding": {
  "x": {"datum": 0, "type": "quantitative", "scale": {"domain": [0, 1], "nice": false, "zero": false}, "axis": {"orient": "top", "labels": false, "title": null, "values": [0,0.1,0.2,0.3,0.4,0.5,0.6,0.7,0.8,0.9,1], "tickSize": {"condition": {"test": "abs(datum.value*5-round(datum.value*5))<1e-6", "value": -8}, "value": -4}}},
  "x2": {"datum": 1},
  "y": {"datum": 0, "type": "quantitative", "scale": {"domain": [-0.02, 0.12], "nice": false, "zero": false}, "axis": {"orient": "right", "labels": false, "title": null, "values": [-0.02,-0.01,0,0.01,0.02,0.03,0.04,0.05,0.06,0.07,0.08,0.09,0.1,0.11], "tickSize": {"condition": {"test": "abs(datum.value*50-round(datum.value*50))<1e-6", "value": -8}, "value": -4}}}
 }},
{"data": {"name": "p5"},
 "encoding": {
  "x": {"field": "x", "type": "quantitative", "scale": {"domain": [0, 1], "nice": false, "zero": false}, "axis": {"title": "|z| (kpc)", "values": [0,0.1,0.2,0.3,0.4,0.5,0.6,0.7,0.8,0.9,1], "tickSize": {"condition": {"test": "abs(datum.value*5-round(datum.value*5))<1e-6", "value": -8}, "value": -4}, "labelExpr": "abs(datum.value*5-round(datum.value*5))<1e-6 ? replace(toString(datum.value),'.',',') : ''", "labelPadding": 12, "titlePadding": -2}},
  "y": {"field": "y", "type": "quantitative", "scale": {"domain": [-0.02, 0.12], "nice": false, "zero": false}, "axis": {"title": "<ρdark> (MSun/pc³)", "values": [-0.02,-0.01,0,0.01,0.02,0.03,0.04,0.05,0.06,0.07,0.08,0.09,0.1,0.11], "tickSize": {"condition": {"test": "abs(datum.value*50-round(datum.value*50))<1e-6", "value": -8}, "value": -4}, "labelExpr": "abs(datum.value*50-round(datum.value*50))<1e-6 ? replace(toString(datum.value),'.',',') : ''", "labelPadding": 14, "titlePadding": 6}},
  "color": {"field": "s", "type": "nominal", "scale": {"domain": ["Data anticenter","NFW model","Bosma-DMD1 model","Bosma-DMD2 model"], "range": ["#000000","#ff0000","#008b00","#9400d3"]},
   "legend": {"title": null, "orient": "none", "legendX": 350, "legendY": 25, "encode": {"symbols": {"update": {"shape": {"signal": "datum.value=='Data anticenter' ? 'M-2.7,0H2.7M-0.9,0A0.9,0.9,0,1,1,-2.7,0A0.9,0.9,0,1,1,-0.9,0M2.7,0A0.9,0.9,0,1,1,0.9,0A0.9,0.9,0,1,1,2.7,0' : datum.value=='Datum Gal. poles' ? 'M0,-0.9H1.8V0.9H0Z' : datum.value=='Data Gal. poles' ? 'M-2.7,-0.9H-0.9V0.9H-2.7ZM0.9,-0.9H2.7V0.9H0.9ZM-0.9,0H0.9' : 'M-2.7,0H2.7'"}, "stroke": {"signal": "datum.value=='NFW model' ? '#ff0000' : datum.value=='Bosma-DMD1 model' ? '#008b00' : datum.value=='Bosma-DMD2 model' ? '#9400d3' : datum.value=='Data anticenter' ? '#000000' : '#0000ff'"}, "strokeDash": {"signal": "datum.value=='NFW model' ? [8,5] : datum.value=='Bosma-DMD1 model' ? [2.5,7] : datum.value=='Bosma-DMD2 model' ? [8,4,2,4] : [1,0]"}, "strokeWidth": {"signal": "(datum.value=='NFW model' || datum.value=='Bosma-DMD1 model' || datum.value=='Bosma-DMD2 model') ? 2.2 : 1.2"}, "fill": {"value": "transparent"}, "opacity": {"value": 1}}}}}}
 },
 "layer": [
  {"transform": [{"filter": "datum.s=='NFW model' || datum.s=='Bosma-DMD1 model' || datum.s=='Bosma-DMD2 model'"}], "mark": {"type": "line", "strokeWidth": 2, "clip": true}, "encoding": {"strokeDash": {"field": "s", "type": "nominal", "scale": {"domain": ["Datum Gal. poles","Data Gal. poles","Data anticenter","NFW model","Bosma-DMD1 model","Bosma-DMD2 model"], "range": [[1,0],[1,0],[1,0],[7,4],[2.5,7],[8,4,2,4]]}, "legend": null}}},
  {"transform": [{"filter": "datum.s=='Data anticenter' || datum.s=='Data Gal. poles'"}], "mark": {"type": "line", "strokeWidth": 1.5, "clip": true}},
  {"transform": [{"filter": "isValid(datum.lo) && datum.s!='Datum Gal. poles'"}], "mark": {"type": "rule", "strokeWidth": 2, "clip": true}, "encoding": {"y": {"field": "lo", "type": "quantitative"}, "y2": {"field": "hi"}}},
  {"transform": [{"filter": "isValid(datum.lo) && datum.s!='Datum Gal. poles'"}], "mark": {"type": "rule", "strokeWidth": 2, "clip": true, "xOffset": -5.5, "x2Offset": 5.5}, "encoding": {"x2": {"field": "x"}, "y": {"field": "lo", "type": "quantitative"}}},
  {"transform": [{"filter": "isValid(datum.lo) && datum.s!='Datum Gal. poles'"}], "mark": {"type": "rule", "strokeWidth": 2, "clip": true, "xOffset": -5.5, "x2Offset": 5.5}, "encoding": {"x2": {"field": "x"}, "y": {"field": "hi", "type": "quantitative"}}},
  {"transform": [{"filter": "datum.s=='Data anticenter'"}], "mark": {"type": "point", "shape": "circle", "size": 95, "filled": false, "strokeWidth": 1.2, "opacity": 1, "clip": true}}
 ]}
]
},
{
"width": 496, "height": 347, "title": "R=8.34 kpc; Galactic poles",
"resolve": {"axis": {"x": "independent", "y": "independent"}},
"layer": [
{"data": {"values": [{}]}, "mark": {"type": "rule", "color": "#333333", "strokeWidth": 1},
 "encoding": {
  "x": {"datum": 0, "type": "quantitative", "scale": {"domain": [0, 1], "nice": false, "zero": false}, "axis": {"orient": "top", "labels": false, "title": null, "values": [0,0.1,0.2,0.3,0.4,0.5,0.6,0.7,0.8,0.9,1], "tickSize": {"condition": {"test": "abs(datum.value*5-round(datum.value*5))<1e-6", "value": -8}, "value": -4}}},
  "x2": {"datum": 1},
  "y": {"datum": 0, "type": "quantitative", "scale": {"domain": [-0.045, 0.27], "nice": false, "zero": false}, "axis": {"orient": "right", "labels": false, "title": null, "values": [-0.04,-0.03,-0.02,-0.01,0,0.01,0.02,0.03,0.04,0.05,0.06,0.07,0.08,0.09,0.1,0.11,0.12,0.13,0.14,0.15,0.16,0.17,0.18,0.19,0.2,0.21,0.22,0.23,0.24,0.25,0.26], "tickSize": {"condition": {"test": "abs(datum.value*20-round(datum.value*20))<1e-6", "value": -8}, "value": -4}}}
 }},
{"data": {"name": "p6"},
 "encoding": {
  "x": {"field": "x", "type": "quantitative", "scale": {"domain": [0, 1], "nice": false, "zero": false}, "axis": {"title": "|z| (kpc)", "values": [0,0.1,0.2,0.3,0.4,0.5,0.6,0.7,0.8,0.9,1], "tickSize": {"condition": {"test": "abs(datum.value*5-round(datum.value*5))<1e-6", "value": -8}, "value": -4}, "labelExpr": "abs(datum.value*5-round(datum.value*5))<1e-6 ? replace(toString(datum.value),'.',',') : ''", "labelPadding": 12, "titlePadding": -2}},
  "y": {"field": "y", "type": "quantitative", "scale": {"domain": [-0.045, 0.27], "nice": false, "zero": false}, "axis": {"title": "<ρdark> (MSun/pc³)", "values": [-0.04,-0.03,-0.02,-0.01,0,0.01,0.02,0.03,0.04,0.05,0.06,0.07,0.08,0.09,0.1,0.11,0.12,0.13,0.14,0.15,0.16,0.17,0.18,0.19,0.2,0.21,0.22,0.23,0.24,0.25,0.26], "tickSize": {"condition": {"test": "abs(datum.value*20-round(datum.value*20))<1e-6", "value": -8}, "value": -4}, "labelExpr": "abs(datum.value*20-round(datum.value*20))<1e-6 ? replace(toString(datum.value),'.',',') : ''", "labelPadding": 14, "titlePadding": 6}},
  "color": {"field": "s", "type": "nominal", "scale": {"domain": ["Data Gal. poles","NFW model","Bosma-DMD1 model","Bosma-DMD2 model"], "range": ["#0000ff","#ff0000","#008b00","#9400d3"]},
   "legend": {"title": null, "orient": "none", "legendX": 347, "legendY": 25, "encode": {"symbols": {"update": {"shape": {"signal": "datum.value=='Data anticenter' ? 'M-2.7,0H2.7M-0.9,0A0.9,0.9,0,1,1,-2.7,0A0.9,0.9,0,1,1,-0.9,0M2.7,0A0.9,0.9,0,1,1,0.9,0A0.9,0.9,0,1,1,2.7,0' : datum.value=='Datum Gal. poles' ? 'M0,-0.9H1.8V0.9H0Z' : datum.value=='Data Gal. poles' ? 'M-2.7,-0.9H-0.9V0.9H-2.7ZM0.9,-0.9H2.7V0.9H0.9ZM-0.9,0H0.9' : 'M-2.7,0H2.7'"}, "stroke": {"signal": "datum.value=='NFW model' ? '#ff0000' : datum.value=='Bosma-DMD1 model' ? '#008b00' : datum.value=='Bosma-DMD2 model' ? '#9400d3' : datum.value=='Data anticenter' ? '#000000' : '#0000ff'"}, "strokeDash": {"signal": "datum.value=='NFW model' ? [8,5] : datum.value=='Bosma-DMD1 model' ? [2.5,7] : datum.value=='Bosma-DMD2 model' ? [8,4,2,4] : [1,0]"}, "strokeWidth": {"signal": "(datum.value=='NFW model' || datum.value=='Bosma-DMD1 model' || datum.value=='Bosma-DMD2 model') ? 2.2 : 1.2"}, "fill": {"value": "transparent"}, "opacity": {"value": 1}}}}}}
 },
 "layer": [
  {"transform": [{"filter": "datum.s=='NFW model' || datum.s=='Bosma-DMD1 model' || datum.s=='Bosma-DMD2 model'"}], "mark": {"type": "line", "strokeWidth": 2, "clip": true}, "encoding": {"strokeDash": {"field": "s", "type": "nominal", "scale": {"domain": ["Datum Gal. poles","Data Gal. poles","Data anticenter","NFW model","Bosma-DMD1 model","Bosma-DMD2 model"], "range": [[1,0],[1,0],[1,0],[7,4],[2.5,7],[8,4,2,4]]}, "legend": null}}},
  {"transform": [{"filter": "datum.s=='Data anticenter' || datum.s=='Data Gal. poles'"}], "mark": {"type": "line", "strokeWidth": 1.5, "clip": true}},
  {"transform": [{"filter": "isValid(datum.lo) && datum.s!='Datum Gal. poles'"}], "mark": {"type": "rule", "strokeWidth": 2, "clip": true}, "encoding": {"y": {"field": "lo", "type": "quantitative"}, "y2": {"field": "hi"}}},
  {"transform": [{"filter": "isValid(datum.lo) && datum.s!='Datum Gal. poles'"}], "mark": {"type": "rule", "strokeWidth": 2, "clip": true, "xOffset": -5.5, "x2Offset": 5.5}, "encoding": {"x2": {"field": "x"}, "y": {"field": "lo", "type": "quantitative"}}},
  {"transform": [{"filter": "isValid(datum.lo) && datum.s!='Datum Gal. poles'"}], "mark": {"type": "rule", "strokeWidth": 2, "clip": true, "xOffset": -5.5, "x2Offset": 5.5}, "encoding": {"x2": {"field": "x"}, "y": {"field": "hi", "type": "quantitative"}}},
  {"transform": [{"filter": "datum.s=='Datum Gal. poles' || datum.s=='Data Gal. poles'"}], "mark": {"type": "point", "shape": "square", "size": 81, "filled": false, "strokeWidth": 1.2, "opacity": 1, "clip": true}}
 ]}
]
}
],
"spacing": 177, "bounds": "flush", "resolve": {"scale": {"color": "independent"}}
}
],
"spacing": 98, "resolve": {"scale": {"color": "independent"}}
}
]
}
